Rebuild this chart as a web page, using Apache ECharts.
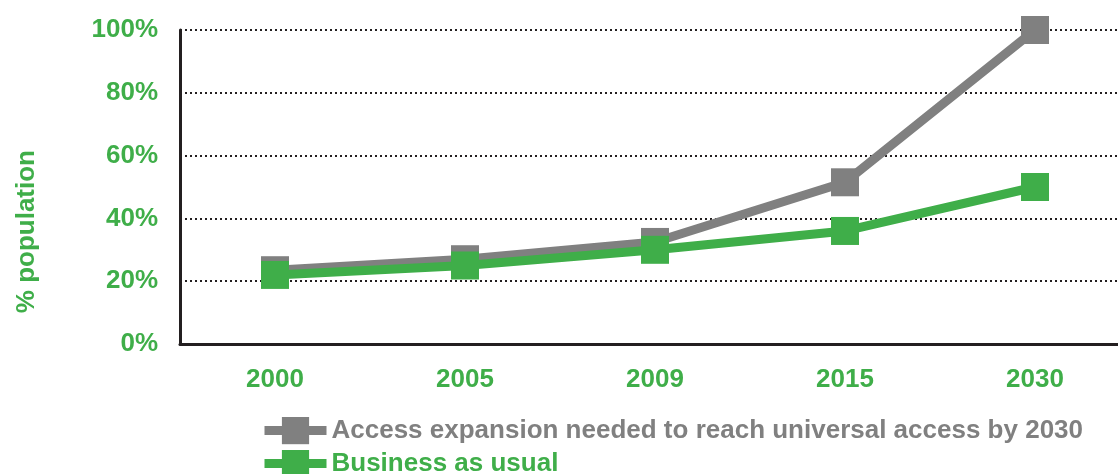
<!DOCTYPE html>
<html>
<head>
<meta charset="utf-8">
<script src="https://cdn.jsdelivr.net/npm/echarts@6/dist/echarts.min.js"></script>
<style>
  html, body { margin: 0; padding: 0; background: #fff; overflow: hidden; }
  /* the plot runs past the right edge of the window, as in the reference */
  #chart { width: 1130px; height: 474px; }
</style>
</head>
<body>
<div id="chart"></div>
<script>
const years = ['2000', '2005', '2009', '2015', '2030'];
const accessExpansion = [23.5, 27, 32.5, 51.5, 100];
const businessAsUsual = [22, 25, 30, 36, 50];
const yTicks = [0, 20, 40, 60, 80, 100];

const accessName = 'Access expansion needed to reach universal access by 2030';
const bauName = 'Business as usual';

const green = '#3fae49';
const gray = '#808080';
const axisColor = '#231f20';
const font = '"Liberation Sans", Arial, sans-serif';
const fontSize = 26;

const chart = echarts.init(document.getElementById('chart'));

// one legend per row so the rows sit where the reference has them
function legendRow(name, color, top) {
    return {
        left: 260,
        top: top,
        padding: 0,
        itemWidth: 62,
        itemHeight: 34,
        lineStyle: { width: 9 },
        textStyle: { fontFamily: font, fontWeight: 'bold', fontSize: fontSize, color: color },
        data: [name]
    };
}

chart.setOption({
    animation: false,
    grid: { left: 180, top: 30, right: 0, bottom: 130 },
    legend: [
        legendRow(accessName, gray, 417),
        legendRow(bauName, green, 450)
    ],
    graphic: [{
        type: 'text',
        left: 14,
        top: 150,
        rotation: Math.PI / 2,
        style: {
            text: '% population',
            fill: green,
            font: 'bold ' + fontSize + 'px ' + font
        }
    }],
    xAxis: {
        type: 'category',
        data: years,
        axisLine: { lineStyle: { color: axisColor, width: 3 } },
        axisTick: { show: false },
        axisLabel: { color: green, fontFamily: font, fontWeight: 'bold', fontSize: fontSize, margin: 23 }
    },
    yAxis: {
        type: 'value',
        min: 0,
        max: 100,
        interval: 20,
        axisLine: { show: true, lineStyle: { color: axisColor, width: 3 } },
        axisTick: { show: false },
        axisLabel: {
            color: green, fontFamily: font, fontWeight: 'bold', fontSize: fontSize, margin: 22,
            formatter: v => yTicks.includes(v) ? v + '%' : ''
        },
        splitLine: { lineStyle: { color: axisColor, type: [2, 3], width: 2 } }
    },
    series: [
        {
            name: accessName,
            type: 'line',
            data: accessExpansion,
            symbol: 'rect',
            symbolSize: 28,
            color: gray,
            lineStyle: { width: 9, color: gray },
            itemStyle: { color: gray }
        },
        {
            name: bauName,
            type: 'line',
            data: businessAsUsual,
            symbol: 'rect',
            symbolSize: 28,
            color: green,
            lineStyle: { width: 9, color: green },
            itemStyle: { color: green }
        }
    ]
});
</script>
</body>
</html>
